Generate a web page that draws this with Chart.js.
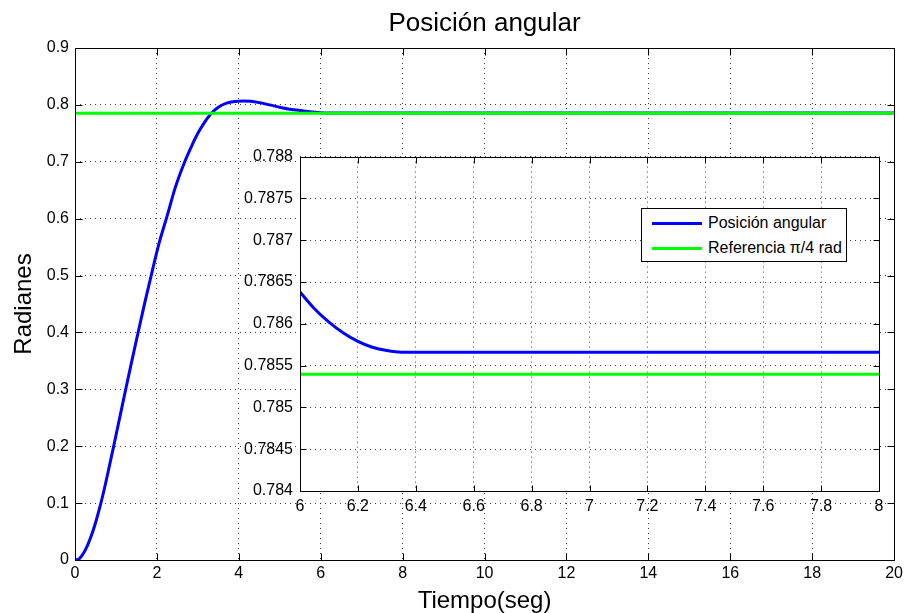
<!DOCTYPE html>
<html lang="es">
<head>
  <meta charset="UTF-8" />
  <title>Posición angular</title>
  <script src="https://cdn.jsdelivr.net/npm/chart.js"></script>
  <style>
    body {
      margin: 0;
      background: #fff;
      font-family: 'Liberation Sans', Arial, sans-serif;
    }
    #wrap {
      position: relative;
      width: 907px;
      height: 613px;
    }
    #mainChart {
      position: absolute;
      left: 0;
      top: 0;
    }
    #insetChart {
      position: absolute;
      left: 230px;
      top: 140px;
    }
    .legend {
      position: absolute;
      left: 641px;
      top: 208px;
      width: 204px;
      height: 52px;
      border: 1px solid #000;
      background: #fff;
      font-size: 16px;
      color: #000;
    }
    .legend div {
      position: absolute;
      left: 66px;
      line-height: 18px;
      white-space: nowrap;
    }
    .legend span {
      position: absolute;
      left: 10px;
      width: 50px;
      height: 3px;
    }
  </style>
</head>
<body>

<div id="wrap">
  <canvas id="mainChart" width="907" height="613"></canvas>
  <canvas id="insetChart" width="665" height="380"></canvas>
  <div class="legend">
    <span style="top:13px;background:#0000ff"></span>
    <div style="top:5px">Posición angular</div>
    <span style="top:38px;background:#00ff00"></span>
    <div style="top:30px">Referencia π/4 rad</div>
  </div>
</div>

<script>
  // main plot: 0..20 s
  const tMain = [0, 0.1, 0.2, 0.3, 0.4, 0.5, 0.6, 0.7, 0.8, 0.95, 1.1, 1.25, 1.4, 1.55, 1.7, 1.87,
                 2.05, 2.25, 2.45, 2.68, 2.85, 3.0, 3.15, 3.33, 3.5, 3.7, 3.9, 4.1, 4.3,
                 4.5, 4.75, 5.0, 5.25, 5.5, 5.73, 6.0, 6.2, 6.35, 8, 10, 12, 14, 16, 18, 20];
  const posMain = [0, 0.002, 0.011, 0.025, 0.043, 0.065, 0.091, 0.12, 0.152, 0.202, 0.253, 0.304, 0.354, 0.403, 0.451, 0.503,
                   0.556, 0.605, 0.655, 0.7, 0.728, 0.75, 0.768, 0.7854, 0.796, 0.803, 0.806, 0.807, 0.8065,
                   0.804, 0.8, 0.796, 0.7925, 0.79, 0.788, 0.78638, 0.78579, 0.78566, 0.78566,
                   0.78566, 0.78566, 0.78566, 0.78566, 0.78566, 0.78566];
  const tRef = [0, 20];
  const posRef = [0.785398, 0.785398];

  // zoomed plot: 6..8 s
  const tInset = [6, 6.05, 6.1, 6.15, 6.2, 6.25, 6.3, 6.35, 6.4, 8];
  const posInset = [0.78638, 0.78618, 0.78602, 0.78589, 0.78579, 0.78572, 0.78568, 0.78566, 0.78566, 0.78566];
  const tRefInset = [6, 8];
  const posRefInset = [0.785398, 0.785398];

  const xTicksMain = [0, 2, 4, 6, 8, 10, 12, 14, 16, 18, 20];
  const xLabelsMain = ['0', '2', '4', '6', '8', '10', '12', '14', '16', '18', '20'];
  const yTicksMain = [0, 0.1, 0.2, 0.3, 0.4, 0.5, 0.6, 0.7, 0.8, 0.9];
  const yLabelsMain = ['0', '0.1', '0.2', '0.3', '0.4', '0.5', '0.6', '0.7', '0.8', '0.9'];
  const xTicksInset = [6, 6.2, 6.4, 6.6, 6.8, 7, 7.2, 7.4, 7.6, 7.8, 8];
  const xLabelsInset = ['6', '6.2', '6.4', '6.6', '6.8', '7', '7.2', '7.4', '7.6', '7.8', '8'];
  const yTicksInset = [0.784, 0.7845, 0.785, 0.7855, 0.786, 0.7865, 0.787, 0.7875, 0.788];
  const yLabelsInset = ['0.784', '0.7845', '0.785', '0.7855', '0.786', '0.7865', '0.787', '0.7875', '0.788'];

  const FONT = "'Liberation Sans', Arial, sans-serif";
  Chart.defaults.font.family = FONT;
  Chart.defaults.color = '#000';

  const pts = (xs, ys) => xs.map((x, i) => ({ x: x, y: ys[i] }));

  // white plot background + box + inward ticks, matlab style
  const matBox = {
    id: 'matBox',
    beforeDraw(chart, args, opts) {
      if (!opts.fill) return;
      const a = chart.chartArea;
      chart.ctx.save();
      chart.ctx.fillStyle = '#fff';
      chart.ctx.fillRect(a.left, a.top, a.right - a.left, a.bottom - a.top);
      chart.ctx.restore();
    },
    afterDraw(chart, args, opts) {
      const { ctx, chartArea: a, scales } = chart;
      const len = opts.len || 6;
      const L = Math.round(a.left) + 0.5, R = Math.round(a.right) + 0.5;
      const T = Math.round(a.top) + 0.5, B = Math.round(a.bottom) + 0.5;
      ctx.save();
      ctx.strokeStyle = '#000';
      ctx.lineWidth = 1;
      ctx.beginPath();
      scales.x.ticks.forEach(t => {
        const px = Math.round(scales.x.getPixelForValue(t.value)) + 0.5;
        ctx.moveTo(px, B); ctx.lineTo(px, B - len);
        ctx.moveTo(px, T); ctx.lineTo(px, T + len);
      });
      scales.y.ticks.forEach(t => {
        const py = Math.round(scales.y.getPixelForValue(t.value)) + 0.5;
        ctx.moveTo(L, py); ctx.lineTo(L + len, py);
        ctx.moveTo(R, py); ctx.lineTo(R - len, py);
      });
      ctx.stroke();
      ctx.strokeRect(L, T, R - L, B - T);
      ctx.restore();
    }
  };

  function axis(ticks, labels, min, max, pad, fitSize, horiz, title) {
    return {
      type: 'linear',
      min: min,
      max: max,
      afterBuildTicks: s => { s.ticks = ticks.map(v => ({ value: v })); },
      afterFit: s => { if (horiz) s.height = fitSize; else s.width = fitSize; },
      ticks: {
        autoSkip: false,
        maxRotation: 0,
        padding: pad,
        font: { size: 16 },
        callback: (v, i) => labels[i]
      },
      grid: { color: 'rgba(0,0,0,0.75)', lineWidth: 1, drawTicks: false },
      border: { display: false, dash: [1, 4] },
      title: title
    };
  }

  new Chart(document.getElementById('mainChart'), {
    type: 'line',
    data: {
      datasets: [
        { data: pts(tMain, posMain), borderColor: '#0000ff', borderWidth: 3, order: 1,
          pointRadius: 0, cubicInterpolationMode: 'monotone' },
        { data: pts(tRef, posRef), borderColor: '#00ff00', borderWidth: 3, order: 0,
          pointRadius: 0 }
      ]
    },
    options: {
      responsive: false,
      animation: false,
      events: [],
      layout: { padding: { right: 11 } },
      plugins: {
        legend: { display: false },
        tooltip: { enabled: false },
        title: {
          display: true,
          text: 'Posición angular',
          fullSize: false,
          font: { size: 26, weight: 'normal' },
          padding: { top: 8, bottom: 8.8 }
        },
        matBox: { len: 7 }
      },
      scales: {
        x: axis(xTicksMain, xLabelsMain, 0, 20, 4, 53, true,
          { display: true, text: 'Tiempo(seg)', font: { size: 24, lineHeight: 1 }, padding: 0 }),
        y: axis(yTicksMain, yLabelsMain, 0, 0.9, 6, 75, false,
          { display: true, text: 'Radianes', font: { size: 24, lineHeight: 1 }, padding: { top: 12, bottom: 0 } })
      }
    },
    plugins: [matBox]
  });

  new Chart(document.getElementById('insetChart'), {
    type: 'line',
    data: {
      datasets: [
        { data: pts(tInset, posInset), borderColor: '#0000ff', borderWidth: 3, order: 1,
          pointRadius: 0, cubicInterpolationMode: 'monotone' },
        { data: pts(tRefInset, posRefInset), borderColor: '#00ff00', borderWidth: 3, order: 0,
          pointRadius: 0 }
      ]
    },
    options: {
      responsive: false,
      animation: false,
      events: [],
      layout: { padding: { top: 15, right: 16 } },
      plugins: {
        legend: { display: false },
        tooltip: { enabled: false },
        matBox: { len: 6, fill: true }
      },
      scales: {
        x: axis(xTicksInset, xLabelsInset, 6, 8, 6, 29, true, { display: false }),
        y: axis(yTicksInset, yLabelsInset, 0.784, 0.788, 7, 70, false, { display: false })
      }
    },
    plugins: [matBox]
  });
</script>

</body>
</html>
